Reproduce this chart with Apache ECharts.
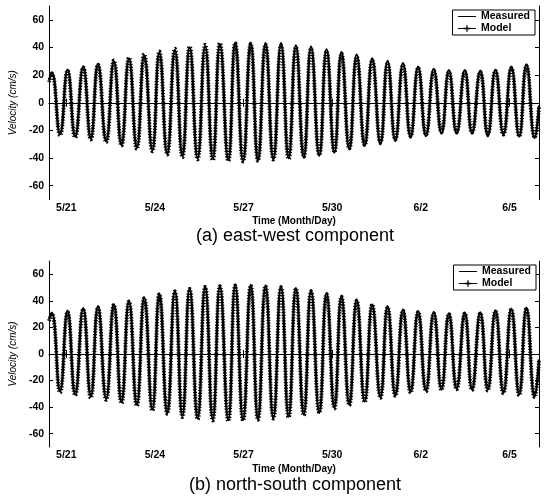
<!DOCTYPE html>
<html><head><meta charset="utf-8">
<script src="https://cdn.jsdelivr.net/npm/echarts@6/dist/echarts.min.js"></script>
<style>html,body{margin:0;padding:0;background:#fff}#c{width:549px;height:498px}</style>
</head><body><div id="c"></div>
<script>
// time of each read point, hours since 5/20 00:00 (alternating peaks / troughs)
const timeHours = [10, 12.2, 18.9, 25.0, 31.2, 37.7, 43.9, 49.7, 56.4, 62.6, 68.8, 74.9, 81.3, 87.3, 93.9, 99.6, 106.0, 112.2, 118.3, 124.2, 130.7, 136.8, 143.0, 148.8, 155.6, 161.2, 167.6, 173.8, 179.7, 185.8, 192.2, 198.4, 204.6, 210.5, 216.9, 222.8, 229.5, 235.4, 241.8, 247.5, 253.9, 259.9, 266.4, 272.5, 279.2, 285.0, 291.3, 297.5, 303.7, 309.8, 316.2, 322.5, 328.8, 334.8, 341.1, 347.7, 353.6, 360.3, 366.4, 372.6, 379.1, 385.5, 391.9, 397.8, 404.5, 408];
// (a) east-west component, cm/s
const ewMeasured = [16, 22, -22.6, 24, -24.5, 26, -25.8, 28, -27.7, 30, -30.6, 32, -32.5, 34.3, -34.2, 36.4, -37, 38, -38.5, 40, -40.2, 41, -40.2, 42.4, -41.4, 43.4, -42.2, 43.4, -41.9, 43, -40.8, 43, -40, 41.5, -39.6, 40.5, -38.2, 38.6, -36, 36.6, -33.6, 34.8, -31.2, 32, -30, 30.2, -27.6, 28.7, -25.2, 26, -24.1, 24.5, -22.3, 23.6, -22.3, 23.6, -22.1, 23.1, -24.1, 23.8, -22.8, 26, -24.5, 27.8, -25.5, -2];
const ewModel = [15, 21, -23.5, 23, -25, 25.5, -26.5, 27.5, -28.5, 30.5, -31, 32.5, -33.5, 35, -35, 37, -37.5, 39, -39.5, 40.5, -41, 42, -41.5, 43, -42, 43, -42.5, 42.5, -42, 42, -41, 41.5, -40.5, 40, -39, 39, -37.5, 37, -35.5, 35.5, -33, 33, -30.5, 30.5, -28.5, 28.5, -26.5, 27, -24, 25, -23, 23, -21, 22, -21, 22.5, -21.5, 22, -22.5, 23, -23, 25, -24, 26.5, -25, -3];
// (b) north-south component, cm/s
const nsMeasured = [26, 31, -28, 32.5, -30.5, 34.4, -32, 35.8, -33.8, 37.3, -36.2, 40, -38, 42.6, -41.8, 45.4, -44.5, 47.6, -46.5, 49.4, -48.6, 51, -49.3, 51.2, -49.7, 52, -49.7, 52, -49.3, 51.5, -48.3, 51, -47, 49.5, -45.6, 48, -44.3, 45.8, -40.5, 43.7, -38, 40.8, -35.7, 37.2, -32.4, 36, -31.2, 33.3, -28.6, 32.2, -27.6, 31.5, -26.7, 30.6, -26, 31, -26.7, 31.2, -26.7, 32.8, -29.2, 34.1, -30.5, 34.8, -32, -4];
const nsModel = [25, 30, -29, 31.5, -31, 33.5, -33, 35, -34.5, 37, -37, 39.5, -39, 42, -42.5, 45, -45, 47, -47.5, 49, -49, 50.5, -50, 51, -50.5, 51.5, -50, 51.5, -49.5, 51, -48.5, 50, -47.5, 49, -46, 47, -44, 45, -41, 43, -38.5, 40, -36, 37, -33, 35, -31.5, 32.5, -29, 31.5, -28, 30.5, -27, 30, -26.5, 30.5, -27, 30.5, -27.5, 32, -29.5, 33.5, -31, 34, -32.5, -5];

const xTickHours = [24, 96, 168, 240, 312, 384];
const xTickLabels = ['5/21', '5/24', '5/27', '5/30', '6/2', '6/5'];
const yTickValues = [-60, -40, -20, 0, 20, 40, 60];
const seriesNames = ['Measured', 'Model'];
const captions = ['(a) east-west component', '(b) north-south component'];
const xAxisTitle = 'Time (Month/Day)';
const yAxisTitle = 'Velocity (cm/s)';

const FONT = 'Liberation Sans, Arial, sans-serif';
const chart = echarts.init(document.getElementById('c'), null, {renderer: 'canvas'});

const grids = [
  {left: 45, right: 10, top: 6, bottom: 298.5},
  {left: 46, right: 10, top: 261, bottom: 51}
];
const xAxes = [], yAxes = [], series = [];
const plusPath = 'path://M4,0L6,0L6,4L10,4L10,6L6,6L6,10L4,10L4,6L0,6L0,4L4,4Z';
[[ewMeasured, ewModel], [nsMeasured, nsModel]].forEach((pair, g) => {
  xAxes.push({
    type: 'value', gridIndex: g, position: 'bottom', min: 10, max: 408,
    name: xAxisTitle, nameLocation: 'middle', nameGap: 17,
    nameTextStyle: {fontFamily: FONT, fontSize: 10, fontWeight: 'bold', color: '#000'},
    axisLine: {show: true, lineStyle: {color: '#000', width: 1}},
    axisTick: {show: true, inside: true, length: 4, customValues: xTickHours, lineStyle: {color: '#000'}},
    axisLabel: {customValues: xTickHours, margin: 3, fontFamily: FONT, fontSize: 10.5, fontWeight: 'bold', color: '#000',
      formatter: v => { const i = xTickHours.indexOf(v); return i >= 0 ? xTickLabels[i] : ''; }},
    splitLine: {show: false}
  });
  xAxes.push({
    type: 'value', gridIndex: g, position: 'top', min: 10, max: 408,
    axisLine: {show: true, lineStyle: {color: '#000', width: 1}},
    axisTick: {show: true, inside: true, length: 4, customValues: xTickHours, lineStyle: {color: '#000'}},
    axisLabel: {show: false}, splitLine: {show: false}
  });
  yAxes.push({
    type: 'value', gridIndex: g, position: 'left', min: -70, max: 70,
    name: yAxisTitle, nameLocation: 'middle', nameGap: 18,
    nameTextStyle: {fontFamily: FONT, fontSize: 10, fontStyle: 'italic', color: '#000'},
    axisLine: {show: true, lineStyle: {color: '#000', width: 1}},
    axisTick: {show: true, inside: true, length: 4, customValues: yTickValues, lineStyle: {color: '#000'}},
    axisLabel: {customValues: yTickValues, margin: 5, fontFamily: FONT, fontSize: 10.5, fontWeight: 'bold', color: '#000'},
    splitLine: {show: false}
  });
  yAxes.push({
    type: 'value', gridIndex: g, position: 'right', min: -70, max: 70,
    axisLine: {show: true, lineStyle: {color: '#000', width: 1}},
    axisTick: {show: true, inside: true, length: 4, customValues: yTickValues, lineStyle: {color: '#000'}},
    axisLabel: {show: false}, splitLine: {show: false}
  });
  series.push({
    name: seriesNames[0], type: 'line', xAxisIndex: 2 * g, yAxisIndex: 2 * g,
    data: timeHours.map((t, i) => [t, pair[0][i]]),
    smooth: 0.5, symbol: 'none', color: '#000',
    lineStyle: {color: '#000', width: 2.4},
    markLine: {silent: true, symbol: 'none', label: {show: false},
      lineStyle: {color: '#000', width: 1, type: 'solid'}, data: [{yAxis: 0}]}
  });
  series.push({
    name: seriesNames[1], type: 'line', xAxisIndex: 2 * g, yAxisIndex: 2 * g,
    data: timeHours.map((t, i) => [t, pair[1][i]]),
    smooth: 0.5, symbol: plusPath, showSymbol: false, color: '#000',
    lineStyle: {color: '#000', width: 4, type: [1.2, 1.6]}
  });
});

const legendBase = {
  orient: 'vertical', itemWidth: 18, itemHeight: 8, itemGap: 1,
  padding: [1, 5, 1, 5], borderColor: '#000', borderWidth: 1, backgroundColor: '#fff',
  textStyle: {fontFamily: FONT, fontSize: 10.5, fontWeight: 'bold', color: '#000'},
  selectedMode: false,
  data: [
    {name: seriesNames[0], itemStyle: {opacity: 0}, lineStyle: {width: 1, type: 'solid'}},
    {name: seriesNames[1], lineStyle: {width: 1, type: 'solid'}}
  ]
};

chart.setOption({
  animation: false,
  backgroundColor: '#fff',
  title: [
    {text: captions[0], left: 295, top: 227, textAlign: 'center', padding: 0,
     textStyle: {fontFamily: FONT, fontSize: 18, fontWeight: 'normal', color: '#000'}},
    {text: captions[1], left: 295, top: 476, textAlign: 'center', padding: 0,
     textStyle: {fontFamily: FONT, fontSize: 18, fontWeight: 'normal', color: '#000'}}
  ],
  legend: [
    Object.assign({}, legendBase, {right: 14, top: 10}),
    Object.assign({}, legendBase, {right: 13, top: 265})
  ],
  grid: grids,
  xAxis: xAxes,
  yAxis: yAxes,
  series: series
});
</script></body></html>
